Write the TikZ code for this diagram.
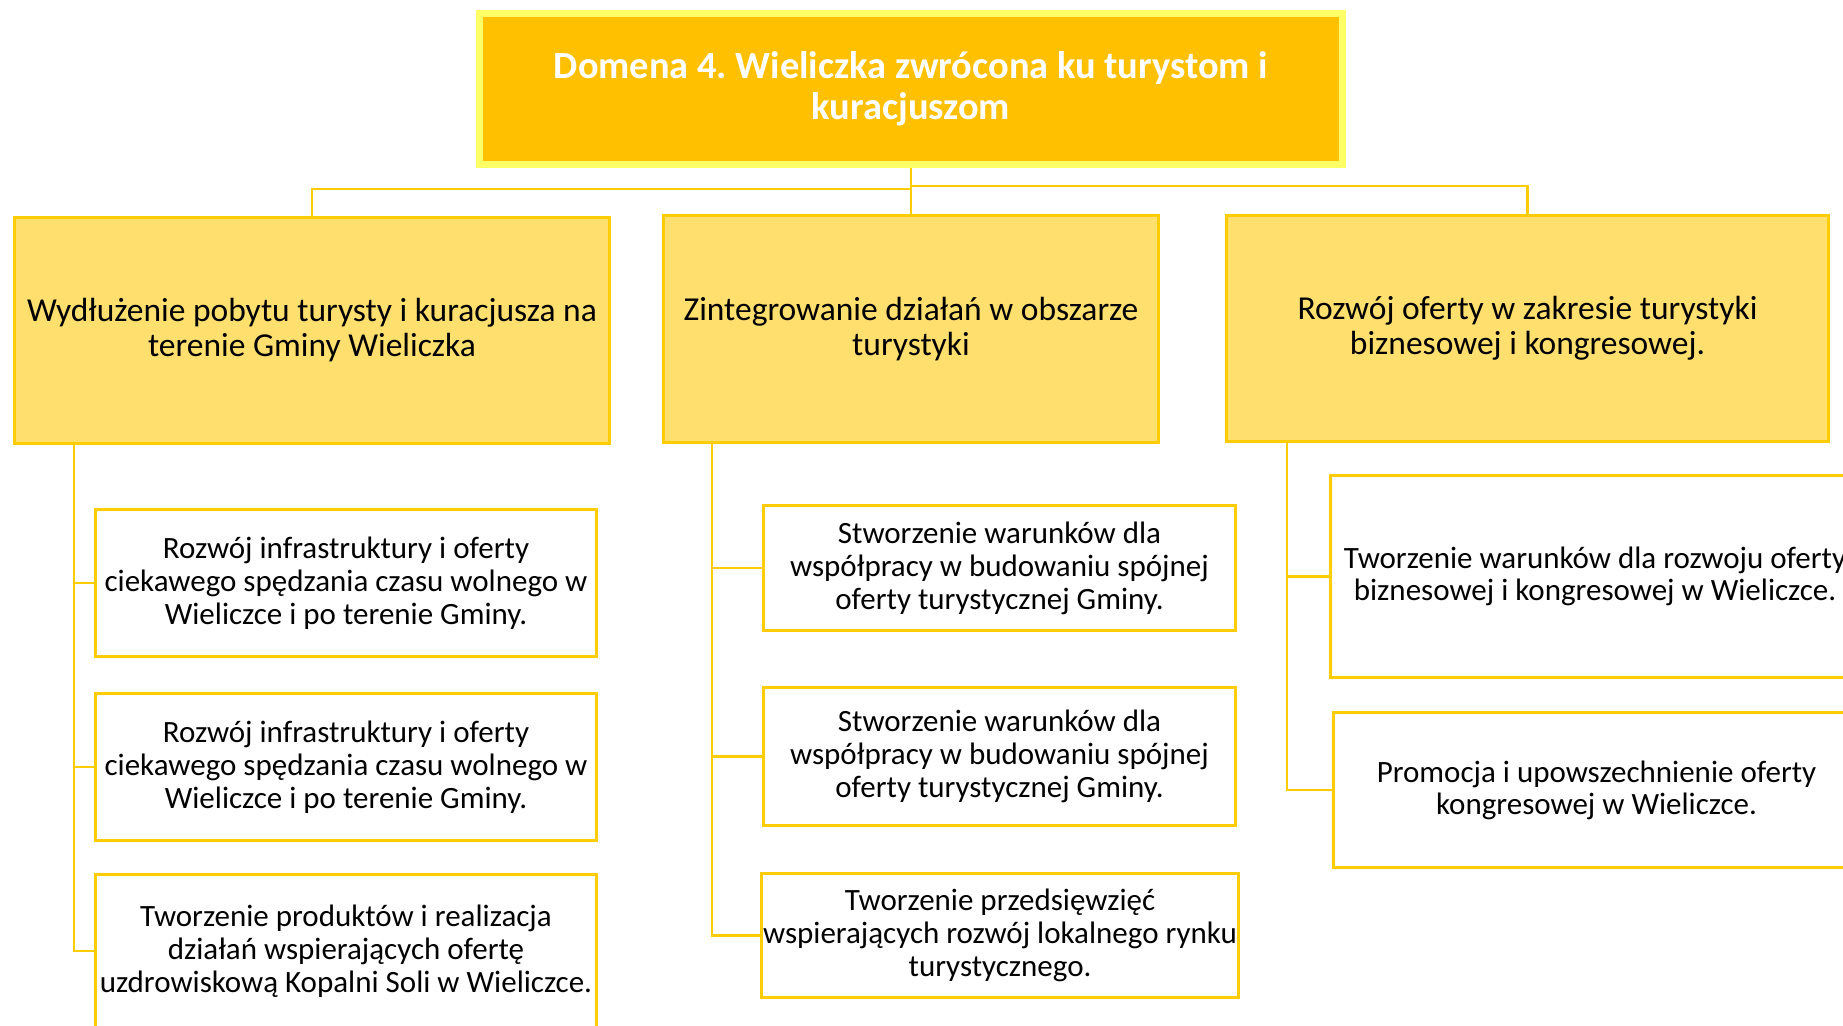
\documentclass[tikz,border=0pt]{standalone}
\usepackage{fontspec}
\setmainfont{Carlito}
\frenchspacing

\definecolor{zloty}{HTML}{FFC000}
\definecolor{jasnyzolty}{HTML}{FFFF66}
\definecolor{piaskowy}{HTML}{FFDF6E}
\definecolor{ramka}{HTML}{FFCC00}

\tikzset{
	domena/.style={fill=zloty, draw=jasnyzolty, line width=7pt, text=white, align=center, inner sep=0pt, font=\fontsize{38.4}{41}\selectfont\bfseries},
	cel/.style={fill=piaskowy, draw=ramka, line width=3pt, align=center, inner sep=0pt, font=\fontsize{33.5}{35}\selectfont},
	dzialanie/.style={fill=white, draw=ramka, line width=3pt, align=center, inner sep=0pt, font=\fontsize{31}{33}\selectfont},
	lacznik/.style={draw=ramka, line width=2.5pt},
}

\begin{document}
\begin{tikzpicture}[x=1pt,y=-1pt]
	\clip (0,0) rectangle (1843,1025);
	% domena
	\node[domena, minimum width=863pt, minimum height=150pt] (dom) at (911,89) {Domena 4. Wieliczka zwrócona ku turystom i\\kuracjuszom};
	% cele
	\node[cel, minimum width=595pt, minimum height=226pt] (lewy) at (312,330.5) {Wydłużenie pobytu turysty i kuracjusza na\\terenie Gminy Wieliczka};
	\node[cel, minimum width=495pt, minimum height=227pt] (srodek) at (911,329) {Zintegrowanie działań w obszarze\\turystyki};
	\node[cel, minimum width=602pt, minimum height=226pt] (prawy) at (1527.5,328.5) {Rozwój oferty w zakresie turystyki\\biznesowej i kongresowej.};
	% dzialania, lewa kolumna
	\node[dzialanie, minimum width=501pt, minimum height=147pt] (l1) at (346,583) {Rozwój infrastruktury i oferty\\ciekawego spędzania czasu wolnego w\\Wieliczce i po terenie Gminy.};
	\node[dzialanie, minimum width=501pt, minimum height=147pt] (l2) at (346,767) {Rozwój infrastruktury i oferty\\ciekawego spędzania czasu wolnego w\\Wieliczce i po terenie Gminy.};
	\node[dzialanie, minimum width=501pt, minimum height=154pt] (l3) at (346,951) {Tworzenie produktów i realizacja\\działań wspierających ofertę\\uzdrowiskową Kopalni Soli w Wieliczce.};
	% srodkowa kolumna
	\node[dzialanie, minimum width=472pt, minimum height=125pt] (m1) at (999.5,568) {Stworzenie warunków dla\\współpracy w budowaniu spójnej\\oferty turystycznej Gminy.};
	\node[dzialanie, minimum width=472pt, minimum height=138pt] (m2) at (999.5,756.5) {Stworzenie warunków dla\\współpracy w budowaniu spójnej\\oferty turystycznej Gminy.};
	\node[dzialanie, minimum width=477pt, minimum height=124pt] (m3) at (1000,935.5) {Tworzenie przedsięwzięć\\wspierających rozwój lokalnego rynku\\turystycznego.};
	% prawa kolumna
	\node[dzialanie, minimum width=529pt, minimum height=202pt, font=\fontsize{31}{32}\selectfont] (r1) at (1595,576.5) {Tworzenie warunków dla rozwoju oferty\\biznesowej i kongresowej w Wieliczce.};
	\node[dzialanie, minimum width=526pt, minimum height=155pt, font=\fontsize{31}{32}\selectfont] (r2) at (1596.5,790) {Promocja i upowszechnienie oferty\\kongresowej w Wieliczce.};
	% polaczenia
	\draw[lacznik] (dom.south) -- (srodek.north);
	\draw[lacznik] (dom.south) ++(0,21.5) -| (lewy.north);
	\draw[lacznik] (dom.south) ++(0,18.5) -| (prawy.north);
	\foreach \n in {l1,l2,l3}
		\draw[lacznik] (lewy.south west) ++(61,0) |- (\n.west);
	\foreach \n in {m1,m2,m3}
		\draw[lacznik] (srodek.south west) ++(50,0) |- (\n.west);
	\foreach \n in {r1,r2}
		\draw[lacznik] (prawy.south west) ++(62,0) |- (\n.west);
\end{tikzpicture}
\end{document}
